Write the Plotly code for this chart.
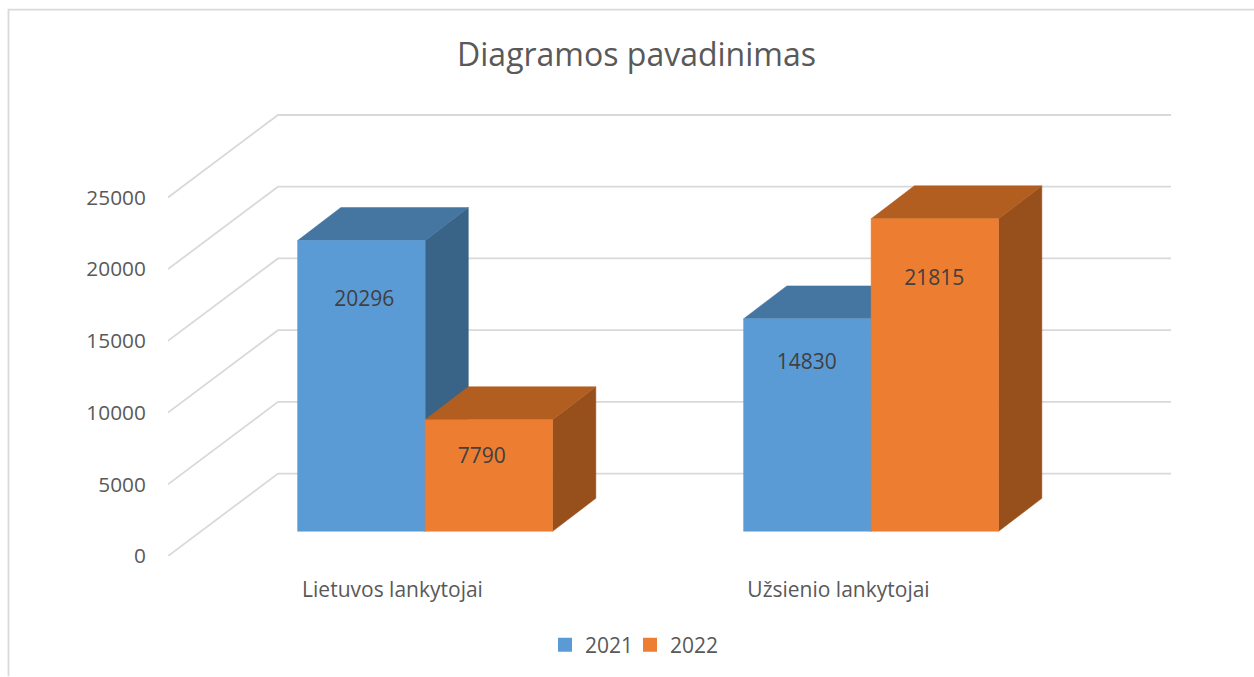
import plotly.graph_objects as go

# ---- data ----
categories = ["Lietuvos lankytojai", "Užsienio lankytojai"]
series_names = ["2021", "2022"]
values_2021 = [20296, 14830]
values_2022 = [7790, 21815]
y_ticks = [0, 5000, 10000, 15000, 20000, 25000]
title_text = "Diagramos pavadinimas"

# ---- page geometry (pixels) ----
W, H = 1254, 677
PL, PR, PT, PB = 168, 1171, 114, 556.5      # plot box
PX_PER_CAT = 446
PX_PER_UNIT = 71.7 / 5000
AXIS_SCALE = 71.8 / 71.7                    # walls are a hair taller than the bars' scale
DEPTH_PX = (110, 82.5)                      # floor depth offset
BAR_PX = 127.5

# pseudo-3D projection, in data units
depth_x = DEPTH_PX[0] / PX_PER_CAT
depth_y = DEPTH_PX[1] / PX_PER_UNIT
t_front_x, t_back_x = 0.31, 0.703
t_front_y, t_back_y = 0.30, 0.70
bar_w = BAR_PX / PX_PER_CAT
x_range = [-0.5, -0.5 + (PR - PL) / PX_PER_CAT]
y_range = [0, (PB - PT) / PX_PER_UNIT]

palette = [
    dict(front="#5b9bd5", top="#4575a1", side="#396488"),
    dict(front="#ed7d31", top="#b25e21", side="#974f1c"),
]
# where each value label sits, as a share of its bar's height, and its sideways nudge in px
label_share = [[0.792, 0.788], [0.655, 0.806]]
label_nudge = [[3, -0.5], [-7, -0.5]]

fig = go.Figure()


def poly(xs, ys, color):
    fig.add_trace(go.Scatter(
        x=xs + xs[:1], y=ys + ys[:1], mode="lines", fill="toself", fillcolor=color,
        line=dict(color=color, width=0.5), showlegend=False, hoverinfo="skip"))


# walls: gridlines on side wall and back wall
gx, gy = [], []
x0, x1 = x_range[0], x_range[1]
for v in y_ticks:
    yv = v * AXIS_SCALE
    gx += [x0, x0 + depth_x, x1, None]
    gy += [yv, yv + depth_y, yv + depth_y, None]
fig.add_trace(go.Scatter(x=gx, y=gy, mode="lines", line=dict(color="#d9d9d9", width=1.8),
                         showlegend=False, hoverinfo="skip"))

# bars, back to front
all_values = [values_2021, values_2022]
for s, vals in enumerate(all_values):
    for c, v in enumerate(vals):
        left = c - bar_w + s * bar_w + t_front_x * depth_x
        right = left + bar_w
        base = t_front_y * depth_y
        dx = (t_back_x - t_front_x) * depth_x
        dy = (t_back_y - t_front_y) * depth_y
        col = palette[s]
        poly([right, right + dx, right + dx, right], [base, base + dy, base + dy + v, base + v], col["side"])
        poly([left, left + dx, right + dx, right], [base + v, base + v + dy, base + v + dy, base + v], col["top"])
        poly([left, right, right, left], [base, base, base + v, base + v], col["front"])

# value labels
for s, vals in enumerate(all_values):
    fig.add_trace(go.Scatter(
        x=[c - bar_w + s * bar_w + t_front_x * depth_x + bar_w / 2 + label_nudge[s][c] / PX_PER_CAT
           for c in range(len(vals))],
        y=[t_front_y * depth_y + label_share[s][c] * v for c, v in enumerate(vals)],
        mode="text", text=[str(v) for v in vals],
        textfont=dict(family="Open Sans", size=21, color="#404040"),
        showlegend=False, hoverinfo="skip"))

# legend keys, one legend each so the keys can be spaced as in the picture
for s, name in enumerate(series_names):
    fig.add_trace(go.Scatter(x=[None], y=[None], mode="markers", name=name, showlegend=True,
                             legend="legend" if s == 0 else f"legend{s + 1}",
                             marker=dict(symbol="square", size=14, color=palette[s]["front"])))


def px_x(p):
    return (p - PL) / (PR - PL)


def px_y(p):
    return (PB - p) / (PB - PT)


def legend_at(px_left):
    return dict(orientation="h", x=px_left / W, xref="container", xanchor="left",
                y=1 - 645 / H, yref="container", yanchor="middle",
                font=dict(family="Open Sans", size=21, color="#595959"),
                bgcolor="rgba(0,0,0,0)")


fig.update_layout(
    width=W, height=H, autosize=False,
    margin=dict(l=PL, r=W - PR, t=PT, b=H - PB, pad=0, autoexpand=False),
    paper_bgcolor="white", plot_bgcolor="white",
    font=dict(family="Open Sans", color="#595959"),
    title=dict(text=title_text, x=636.5 / W, xanchor="center", y=1 - 55 / H, yanchor="middle",
               font=dict(family="Open Sans", size=32, color="#595959")),
    xaxis=dict(range=x_range, tickmode="array", tickvals=[c + 1.5 / PX_PER_CAT for c in range(len(categories))],
               ticktext=categories, showgrid=False, zeroline=False, showline=False,
               ticks="outside", ticklen=15, tickcolor="rgba(0,0,0,0)",
               tickfont=dict(family="Open Sans", size=21, color="#595959"), fixedrange=True),
    yaxis=dict(range=y_range, tickmode="array", tickvals=[v * AXIS_SCALE for v in y_ticks],
               ticktext=[str(v) for v in y_ticks],
               showgrid=False, zeroline=False, showline=False,
               ticks="outside", ticklen=17, tickcolor="rgba(0,0,0,0)",
               tickfont=dict(family="Open Sans", size=20.8, color="#595959"), fixedrange=True),
    legend=legend_at(545),
    legend2=legend_at(630),
    shapes=[dict(type="path", xref="paper", yref="paper", layer="below",
                 path=f"M {px_x(8.5)} {px_y(H)} L {px_x(8.5)} {px_y(9.5)} L {px_x(W)} {px_y(9.5)}",
                 line=dict(color="#d9d9d9", width=1.8))],
    showlegend=True,
)

fig.write_html("out.html", config={"displayModeBar": False},
               post_script="document.body.style.margin='0';document.documentElement.style.overflow='hidden';")
